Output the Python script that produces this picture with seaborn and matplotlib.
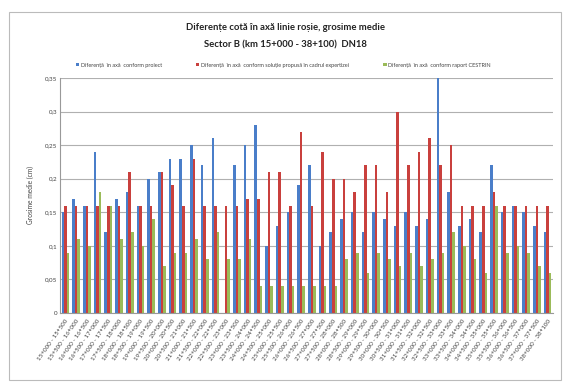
import matplotlib
matplotlib.use("Agg")
import matplotlib.pyplot as plt
import seaborn as sns
import pandas as pd
from matplotlib.patches import Rectangle

segments = [
    "15+000 - 15+500", "15+500 - 16+000", "16+000 - 16+500", "16+500 - 17+000",
    "17+000 - 17+500", "17+500 - 18+000", "18+000 - 18+500", "18+500 - 19+000",
    "19+000 - 19+500", "19+500 - 20+000", "20+000 - 20+500", "20+500 - 21+000",
    "21+000 - 21+500", "21+500 - 22+000", "22+000 - 22+500", "22+500 - 23+000",
    "23+000 - 23+500", "23+500 - 24+000", "24+000 - 24+500", "24+500 - 25+000",
    "25+000 - 25+500", "25+500 - 26+000", "26+000 - 26+500", "26+500 - 27+000",
    "27+000 - 27+500", "27+500 - 28+000", "28+000 - 28+500", "28+500 - 29+000",
    "29+000 - 29+500", "29+500 - 30+000", "30+000 - 30+500", "30+500 - 31+000",
    "31+000 - 31+500", "31+500 - 32+000", "32+000 - 32+500", "32+500 - 33+000",
    "33+000 - 33+500", "33+500 - 34+000", "34+000 - 34+500", "34+500 - 35+000",
    "35+000 - 35+500", "35+500 - 36+000", "36+000 - 36+500", "36+500 - 37+000",
    "37+000 - 37+500", "38+000 - 38+100",
]

proiect = [0.15, 0.17, 0.16, 0.24, 0.12, 0.17, 0.18, 0.16, 0.20, 0.21,
           0.23, 0.23, 0.25, 0.22, 0.26, 0.00, 0.22, 0.25, 0.28, 0.10,
           0.13, 0.15, 0.19, 0.22, 0.10, 0.12, 0.14, 0.15, 0.12, 0.15,
           0.14, 0.13, 0.15, 0.13, 0.14, 0.35, 0.18, 0.13, 0.14, 0.12,
           0.22, 0.15, 0.16, 0.15, 0.13, 0.12]

expertiza = [0.16, 0.16, 0.16, 0.16, 0.16, 0.16, 0.21, 0.16, 0.16, 0.21,
             0.19, 0.16, 0.23, 0.16, 0.16, 0.16, 0.16, 0.17, 0.17, 0.21,
             0.21, 0.16, 0.27, 0.16, 0.24, 0.20, 0.20, 0.18, 0.22, 0.22,
             0.18, 0.30, 0.22, 0.24, 0.26, 0.22, 0.25, 0.16, 0.16, 0.16,
             0.18, 0.16, 0.16, 0.16, 0.16, 0.16]

cestrin = [0.09, 0.11, 0.10, 0.18, 0.16, 0.11, 0.12, 0.10, 0.14, 0.07,
           0.09, 0.09, 0.11, 0.08, 0.12, 0.08, 0.08, 0.11, 0.04, 0.04,
           0.04, 0.04, 0.04, 0.04, 0.04, 0.04, 0.08, 0.09, 0.06, 0.09,
           0.08, 0.07, 0.09, 0.07, 0.08, 0.09, 0.12, 0.10, 0.08, 0.06,
           0.16, 0.09, 0.10, 0.09, 0.07, 0.06]

series_names = [
    "Diferență  în axă  conform proiect",
    "Diferență  în axă  conform soluție propusă în cadrul expertizei",
    "Diferență  în axă  conform raport CESTRIN",
]
colors = ["#4A7EC9", "#C9403D", "#9BBB59"]

ytick_vals = [0, 0.05, 0.10, 0.15, 0.20, 0.25, 0.30, 0.35]
ytick_labels = ["0", "0,05", "0,1", "0,15", "0,2", "0,25", "0,3", "0,35"]

rows = []
for name, vals in zip(series_names, [proiect, expertiza, cestrin]):
    for seg, v in zip(segments, vals):
        rows.append({"seg": seg, "val": v, "serie": name})
df = pd.DataFrame(rows)

sns.set_theme(style="white")
plt.rcParams["font.family"] = ["Lato", "DejaVu Sans"]

fig = plt.figure(figsize=(5.7, 3.85), dpi=100)
ax = fig.add_axes([60 / 570, 1 - 313 / 385, (553 - 60) / 570, (313 - 78) / 385])

sns.barplot(data=df, x="seg", y="val", hue="serie", palette=colors,
            order=segments, hue_order=series_names, width=0.72,
            saturation=1, ax=ax, legend=True, edgecolor="none")

ax.set_ylim(0, 0.35)
ax.set_xlim(-0.5, len(segments) - 0.5)
ax.set_yticks(ytick_vals)
ax.set_yticklabels(ytick_labels, fontsize=4.5, color="#444444")
ax.set_xticks(range(len(segments)))
ax.set_xticklabels(segments, rotation=55, ha="right", rotation_mode="anchor",
                   fontsize=4.5, color="#444444")
ax.tick_params(axis="both", length=0, pad=2)
ax.tick_params(axis="x", pad=4)
ax.grid(axis="y", color="#B0B0B0", linewidth=0.8)
ax.set_axisbelow(True)
for s in ["top", "right"]:
    ax.spines[s].set_visible(False)
for s in ["left", "bottom"]:
    ax.spines[s].set_color("#999999")
    ax.spines[s].set_linewidth(0.8)
ax.set_xlabel("")
ax.set_ylabel("Grosime medie (cm)", fontsize=4.8, color="#444444", labelpad=8)

h, l = ax.get_legend_handles_labels()
ax.get_legend().remove()
fig.legend(h, l, loc="center", bbox_to_anchor=(0.497, 1 - 65 / 385), ncol=3,
           frameon=False, fontsize=4.0, handlelength=0.6, handleheight=0.6,
           handletextpad=0.3, columnspacing=6.2, labelcolor="#444444")

fig.text(0.5, 1 - 28 / 385, "Diferențe cotă în axă linie roșie, grosime medie",
         ha="center", va="center", fontsize=6.8, fontweight="bold", color="#222222")
fig.text(0.5, 1 - 45 / 385, "Sector B (km 15+000 - 38+100)  DN18",
         ha="center", va="center", fontsize=6.8, fontweight="bold", color="#222222")

fig.patches.append(Rectangle((9 / 570, 1 - 380 / 385), (561 - 9) / 570, (380 - 12) / 385,
                             transform=fig.transFigure, fill=False,
                             edgecolor="#BBBBBB", linewidth=0.8))

fig.savefig("out.png", dpi=100)
